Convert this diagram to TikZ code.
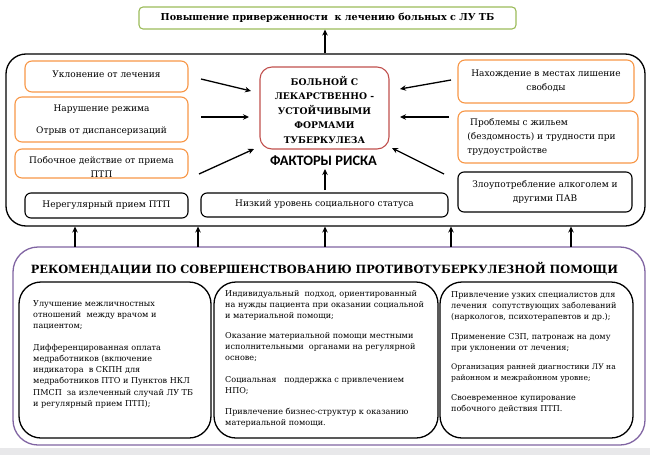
\documentclass[tikz,border=0pt]{standalone}
\usepackage{fontspec}
\setmainfont{DejaVu Serif}
\newfontfamily\dvs{DejaVu Serif}
\newfontfamily\carl{Carlito}
\usetikzlibrary{arrows.meta}
\definecolor{cOrange}{RGB}{247,150,70}
\definecolor{cGreen}{RGB}{155,187,89}
\definecolor{cRed}{RGB}{192,80,77}
\definecolor{cPurple}{RGB}{128,100,162}
\definecolor{cBand}{RGB}{232,232,234}
\begin{document}
\begin{tikzpicture}[x=1pt,y=-1pt,
  font=\dvs,
  obox/.style={draw=cOrange,line width=1.1pt,rounded corners=7pt,inner sep=0pt},
  kbox/.style={draw=black,line width=1.1pt,rounded corners=6pt,inner sep=0pt},
  bigbox/.style={draw=black,line width=1.3pt,rounded corners=20pt,inner sep=0pt},
  recbox/.style={draw=black,line width=1.3pt,rounded corners=22pt,inner sep=0pt},
  txt/.style={inner sep=0pt,align=center,font=\dvs\fontsize{9}{14}\selectfont},
  rtxt/.style={inner sep=0pt,align=left,anchor=north west,font=\dvs\fontsize{8.1}{11.3}\selectfont},
  arr/.style={line width=1.3pt,-{Stealth[length=6pt,width=5.5pt]}}
]
\useasboundingbox (0,0) rectangle (650,455);
\fill[cBand] (0,448) rectangle (650,455);

% top goal
\node[draw=cGreen,line width=1.1pt,rounded corners=4pt,minimum width=377pt,minimum height=22pt,inner sep=0pt,
  font=\dvs\bfseries\fontsize{9.6}{12}\selectfont] (goal) at (327.5,18) {Повышение приверженности~ к лечению больных с ЛУ ТБ};

% big risk box
\node[bigbox,minimum width=639pt,minimum height=172pt] (risk) at (325.5,140) {};

% left boxes
\node[obox,minimum width=163pt,minimum height=31pt] (l1) at (106.5,76.5) {};
\node[txt] (l1t) at (106.5,74) {Уклонение от лечения};
\node[obox,minimum width=173pt,minimum height=45pt] (l2) at (101.5,119.5) {};
\node[txt] (l2t) at (101.5,120) {Нарушение режима\\[8pt]Отрыв от диспансеризаций};
\node[obox,minimum width=173pt,minimum height=29pt] (l3) at (101.5,163.5) {};
\node[txt] (l3t) at (101.5,167) {Побочное действие от приема\\ПТП};
\node[kbox,minimum width=163pt,minimum height=25pt] (l4) at (106.5,205.5) {};
\node[txt] (l4t) at (106.5,205) {Нерегулярный прием ПТП};

% center
\node[draw=cRed,line width=1.1pt,rounded corners=12pt,minimum width=129pt,minimum height=82pt,inner sep=0pt] (c) at (324.5,108) {};
\node[txt,font=\dvs\bfseries\fontsize{9.2}{14.5}\selectfont] (ct) at (324.5,109.5) {БОЛЬНОЙ С\\ЛЕКАРСТВЕННО -\\УСТОЙЧИВЫМИ\\ФОРМАМИ\\ТУБЕРКУЛЕЗА};
\node[inner sep=0pt,font=\carl\bfseries\fontsize{14.4}{16}\selectfont] (fr) at (323.5,161) {ФАКТОРЫ РИСКА};
\node[kbox,minimum width=247pt,minimum height=24pt] (m4) at (324.5,205) {};
\node[txt] (m4t) at (324.5,204.5) {Низкий уровень социального статуса};

% right boxes
\node[obox,minimum width=176pt,minimum height=43pt] (r1) at (546,81.5) {};
\node[txt] (r1t) at (546,81) {Нахождение в местах лишение\\свободы};
\node[obox,minimum width=180pt,minimum height=52pt] (r2) at (548,137) {};
\node[txt,align=left] (r2t) at (541.5,137) {~Проблемы с жильем\\(бездомность) и трудности при\\трудоустройстве};
\node[kbox,minimum width=174pt,minimum height=40pt] (r3) at (545,192) {};
\node[txt] (r3t) at (545,192) {Злоупотребление алкоголем и\\другими ПАВ};

% arrows into center
\coordinate (a1s) at (201,79);  \coordinate (a1e) at (251,91);
\coordinate (a2s) at (201,117); \coordinate (a2e) at (249,117);
\coordinate (a3s) at (199,174); \coordinate (a3e) at (254,149);
\coordinate (b1s) at (451,80);  \coordinate (b1e) at (400,89);
\coordinate (b2s) at (449,117); \coordinate (b2e) at (400,117);
\coordinate (b3s) at (444,174); \coordinate (b3e) at (392,148);
\coordinate (cms) at (325,190); \coordinate (cme) at (325,169);
\draw[arr] (a1s) -- (a1e);
\draw[arr] (a2s) -- (a2e);
\draw[arr] (a3s) -- (a3e);
\draw[arr] (b1s) -- (b1e);
\draw[arr] (b2s) -- (b2e);
\draw[arr] (b3s) -- (b3e);
\draw[arr] (cms) -- (cme);
\draw[arr] (risk.north -| 325,0) -- (goal.south -| 325,0);

% recommendations
\node[draw=cPurple,line width=1.3pt,rounded corners=25pt,minimum width=632pt,minimum height=198pt,inner sep=0pt] (rec) at (329,346) {};
\node[inner sep=0pt,font=\dvs\bfseries\fontsize{11.35}{15}\selectfont] (rech) at (324.5,269) {РЕКОМЕНДАЦИИ ПО СОВЕРШЕНСТВОВАНИЮ ПРОТИВОТУБЕРКУЛЕЗНОЙ ПОМОЩИ};

\foreach \x/\n in {75/1,198/2,325/3,451/4,571/5}{
  \coordinate (ua\n) at (\x,247);
  \coordinate (ub\n) at (\x,226.5);
  \draw[arr] (ua\n) -- (ub\n);
}

\node[recbox,minimum width=192pt,minimum height=156pt] (p1) at (115,360) {};
\node[recbox,minimum width=224pt,minimum height=156pt] (p2) at (326,360) {};
\node[recbox,minimum width=193pt,minimum height=156pt] (p3) at (536.5,360) {};

\node[rtxt] (p1t) at (33,300) {Улучшение межличностных\\отношений~ между врачом и\\пациентом;\\[10pt]Дифференцированная оплата\\медработников (включение\\индикатора~ в СКПН для\\медработников ПТО и Пунктов НКЛ\\ПМСП~ за излеченный случай ЛУ ТБ\\и регулярный прием ПТП);};
\node[rtxt] (p2t) at (225,290) {Индивидуальный~ подход, ориентированный\\на нужды пациента при оказании социальной\\и материальной помощи;\\[8pt]Оказание материальной помощи местными\\исполнительными~ органами на регулярной\\основе;\\[10pt]Социальная~~ поддержка с привлечением\\НПО;\\[10pt]Привлечение бизнес-структур к оказанию\\материальной помощи.};
\node[rtxt] (p3t) at (451,291) {Привлечение узких специалистов для\\лечения~ сопутствующих заболеваний\\(наркологов, психотерапевтов и др.);\\[8pt]Применение СЗП, патронаж на дому\\при уклонении от лечения;\\[8pt]{\fontsize{7.6}{11.3}\selectfont Организация ранней диагностики ЛУ на}\\{\fontsize{7.6}{11.3}\selectfont районном и межрайонном уровне;}\\[8pt]Своевременное купирование\\побочного действия ПТП.};
\end{tikzpicture}
\end{document}
